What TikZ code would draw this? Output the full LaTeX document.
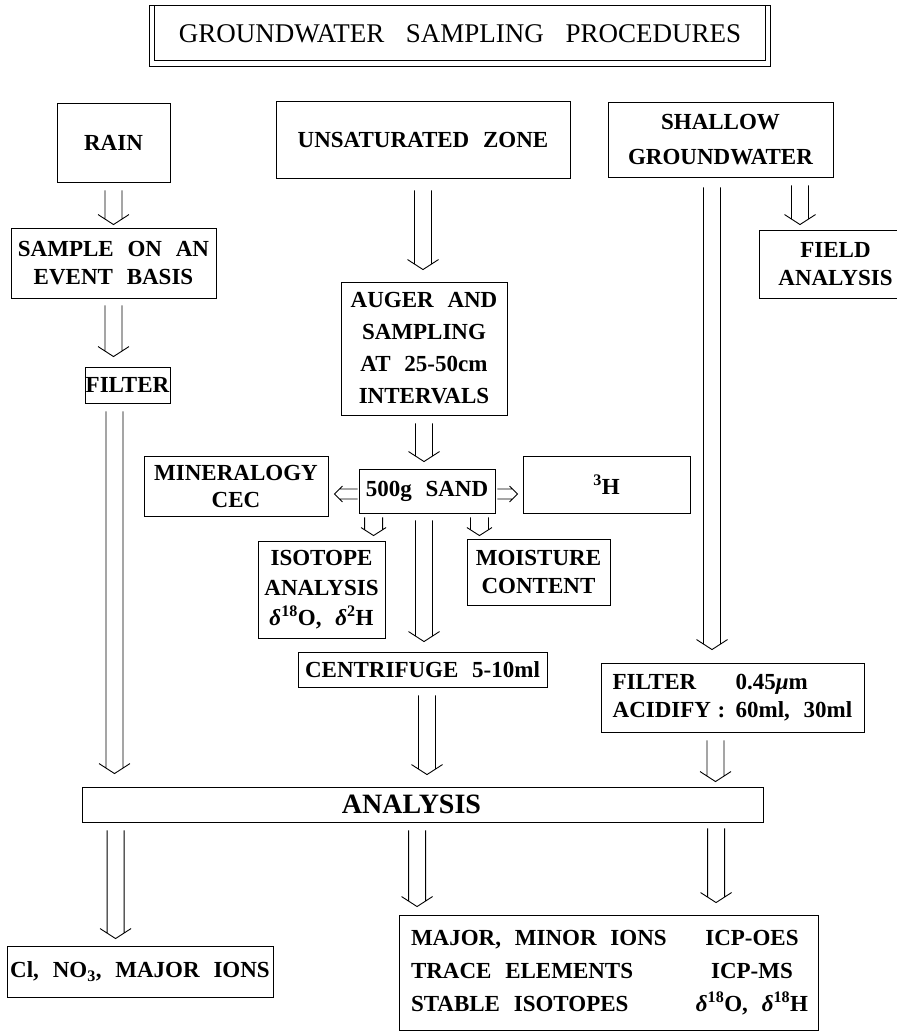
\documentclass[tikz,border=0pt]{standalone}
\usepackage{fontspec}
\setmainfont{Liberation Serif}
\usetikzlibrary{calc}
\newcommand\bxf[1]{\fontsize{23}{#1}\selectfont\bfseries\spaceskip=0.6em plus 0.1em\relax}
\newcommand\bx[7][]{\node[box,minimum width={#5-#3},minimum height={#6-#4},#1] (#2) at ({(#3+#5)/2},{(#4+#6)/2}) {#7};}
% hollow arrows
\newcommand\hdown[2]{\draw[harrow] let \p1=(#1), \p2=(#2) in
  (\x1-8.5pt,\y1) -- (\x1-8.5pt,\y2+5.5pt) (\x1+8.5pt,\y1) -- (\x1+8.5pt,\y2+5.5pt)
  (\x1-15.5pt,\y2+10pt) -- (\x1,\y2) -- (\x1+15.5pt,\y2+10pt);}
\newcommand\hdowns[2]{\draw[harrow] let \p1=(#1), \p2=(#2) in
  (\x1-9pt,\y1) -- (\x1-9pt,\y2+5.8pt) (\x1+9pt,\y1) -- (\x1+9pt,\y2+5.8pt)
  (\x1-12.5pt,\y2+8pt) -- (\x1,\y2) -- (\x1+12.5pt,\y2+8pt);}
\newcommand\hleft[2]{\draw[harrow] let \p1=(#1), \p2=(#2) in
  (\x1,\y1+5pt) -- (\x2+5pt,\y1+5pt) (\x1,\y1-5pt) -- (\x2+5pt,\y1-5pt)
  (\x2+8pt,\y1+8pt) -- (\x2,\y1) -- (\x2+8pt,\y1-8pt);}
\newcommand\hright[2]{\draw[harrow] let \p1=(#1), \p2=(#2) in
  (\x1,\y1+5pt) -- (\x2-5pt,\y1+5pt) (\x1,\y1-5pt) -- (\x2-5pt,\y1-5pt)
  (\x2-8pt,\y1+8pt) -- (\x2,\y1) -- (\x2-8pt,\y1-8pt);}
\begin{document}
\begin{tikzpicture}[x=1pt,y=-1pt,
  box/.style={draw,line width=0.9pt,inner sep=0pt,align=center,font=\bxf{29}},
  harrow/.style={line width=0.9pt,line join=miter}]
\useasboundingbox (0,0) rectangle (896,1032);
% title
\node[inner sep=0pt,minimum width=620,minimum height=60,
  font={\fontsize{27}{30}\selectfont\spaceskip=0.8em\relax}] (title) at (460,36)
  {\raisebox{5pt}{GROUNDWATER SAMPLING PROCEDURES}};
\draw[line width=0.9pt] (title.north west) rectangle (title.south east);
\draw[line width=0.9pt] ($(title.north west)+(5,0)$) -- ($(title.south west)+(5,-6)$)
  -- ($(title.south east)+(-5,-6)$) -- ($(title.north east)+(-5,0)$);
% boxes
\bx{rain}{57}{103}{170}{182}{RAIN}
\bx{unsat}{276}{101}{570}{178}{UNSATURATED ZONE}
\bx[font=\bxf{35}]{shallow}{608}{102}{833}{177}{SHALLOW\\GROUNDWATER}
\bx[font=\bxf{28}]{sample}{11}{228}{216}{298}{SAMPLE ON AN\\EVENT BASIS}
\bx[font=\bxf{28}]{field}{759}{230}{912}{298}{FIELD\\ANALYSIS}
\bx{filter}{85}{367}{170}{403}{FILTER}
\bx[font=\bxf{32}]{auger}{341}{282}{507}{415}{AUGER AND\\SAMPLING\\AT 25-50cm\\INTERVALS}
\bx[font=\bxf{27}]{mineral}{144}{456}{328}{516}{MINERALOGY\\CEC}
\bx{sand}{359}{469}{495}{513}{500g SAND}
\bx{tritium}{523}{456}{690}{513}{\textsuperscript{3}H}
\bx[font=\bxf{30}]{isotope}{258}{541}{385}{638}{ISOTOPE\\ANALYSIS\\\textit{δ}\textsuperscript{18}O, \textit{δ}\textsuperscript{2}H}
\bx[font=\bxf{28}]{moisture}{467}{539}{610}{605}{MOISTURE\\CONTENT}
\bx{centrifuge}{298}{652}{547}{687}{CENTRIFUGE 5-10ml}
\bx[font=\bxf{28},align=left]{fa}{601}{663}{864}{732}{\makebox[123pt][l]{FILTER}0.45\textit{μ}m\\\makebox[105pt][l]{ACIDIFY}\makebox[18pt][l]{:}60ml, 30ml}
\bx[font={\fontsize{28}{32}\selectfont\bfseries}]{analysis}{82}{787}{763}{822}{ANALYSIS\hspace{22pt}}
\bx{cl}{7}{946}{273}{997}{Cl, NO\textsubscript{3}, MAJOR IONS}
\bx[font=\bxf{33}]{result}{399}{915}{818}{1030}{\makebox[287pt][l]{MAJOR, MINOR IONS}\makebox[108pt]{ICP-OES}\\
  \makebox[287pt][l]{TRACE ELEMENTS}\makebox[108pt]{ICP-MS}\\
  \makebox[287pt][l]{STABLE ISOTOPES}\makebox[108pt]{\textit{δ}\textsuperscript{18}O, \textit{δ}\textsuperscript{18}H}}
% arrows
\hdown{$(rain.south)+(0,8)$}{$(sample.north)+(0,-3)$}
\hdown{$(sample.south)+(0,7)$}{$(filter.north)+(0,-10)$}
\hdown{$(filter.south)+(-13,8)$}{$(analysis.north)+(0,-13)$}
\hdown{$(unsat.south)+(0,12)$}{$(auger.north)+(0,-12)$}
\hdown{$(auger.south)+(0,8)$}{$(sand.north)+(0,-7)$}
\hdowns{$(sand.south west)+(15,4)$}{$(isotope.north)+(0,-5)$}
\hdowns{$(sand.south east)+(-16,4)$}{$(moisture.north)+(0,-3)$}
\hdown{$(sand.south)+(-3,7)$}{$(centrifuge.north)+(0,-10)$}
\hdown{$(centrifuge.south)+(4.5,8)$}{$(analysis.north)+(0,-12)$}
\hdown{$(shallow.south)+(-8.5,10)$}{$(fa.north)+(0,-13)$}
\hdown{$(shallow.south)+(79.5,8)$}{$(field.north)+(0,-5)$}
\hdown{$(fa.south)+(-17,8)$}{$(analysis.north)+(0,-5)$}
\hdown{$(analysis.south west)+(34,8)$}{$(cl.north)+(0,-7)$}
\hdown{$(analysis.south west)+(335.5,8)$}{$(result.north)+(0,-8)$}
\hdown{$(analysis.south west)+(634.5,6)$}{$(result.north)+(0,-12)$}
\hleft{$(sand.west)+(-1,3)$}{$(mineral.east)+(6,0)$}
\hright{$(sand.east)+(2,3)$}{$(tritium.west)+(-5,0)$}
\end{tikzpicture}
\end{document}
